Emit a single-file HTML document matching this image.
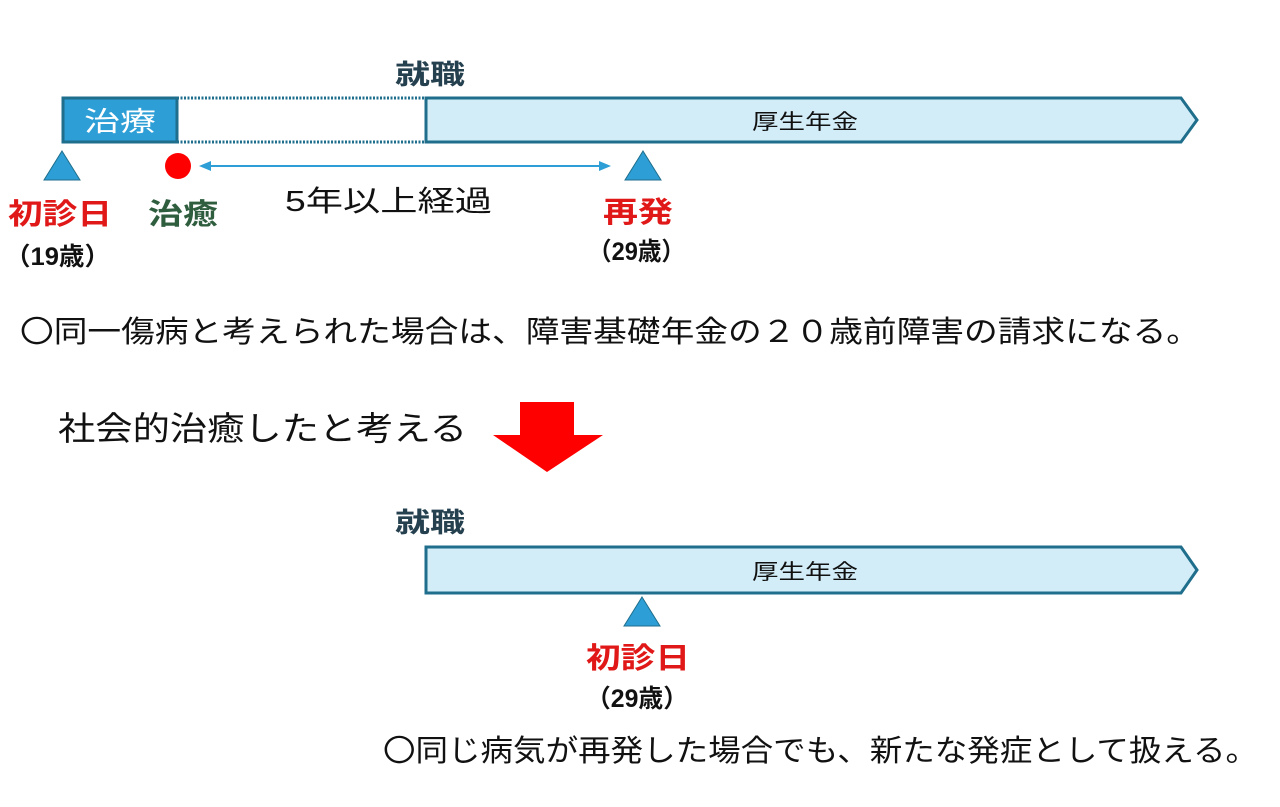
<!DOCTYPE html>
<html><head><meta charset="utf-8"><style>
html,body{margin:0;padding:0;background:#fff;width:1280px;height:807px;overflow:hidden}
text{font-family:"Liberation Sans","Noto Sans CJK JP",sans-serif}
</style></head><body>
<svg width="1280" height="807" viewBox="0 0 1280 807" xmlns="http://www.w3.org/2000/svg">
<text x="395" y="84" font-size="27" font-weight="bold" fill="#25404f" textLength="70" lengthAdjust="spacingAndGlyphs">就職</text>
<rect x="63" y="98" width="114" height="44" fill="#2d9fd6" stroke="#1f6e8c" stroke-width="3"/>
<text x="84" y="131" font-size="27" fill="#fff" textLength="72" lengthAdjust="spacingAndGlyphs">治療</text>
<line x1="177" y1="98" x2="426" y2="98" stroke="#1f6e8c" stroke-width="3" stroke-dasharray="2,1.5"/>
<line x1="177" y1="142" x2="426" y2="142" stroke="#1f6e8c" stroke-width="3" stroke-dasharray="2,1.5"/>
<polygon points="426,98 1181,98 1197,120 1181,142 426,142" fill="#d3edf8" stroke="#1f6e8c" stroke-width="3"/>
<text x="752" y="129" font-size="21" fill="#111" textLength="106" lengthAdjust="spacingAndGlyphs">厚生年金</text>
<polygon points="62,151 80,180 44,180" fill="#2d9fd6" stroke="#1f6e8c" stroke-width="1"/>
<polygon points="643,151 661,180 625,180" fill="#2d9fd6" stroke="#1f6e8c" stroke-width="1"/>
<circle cx="178" cy="166" r="13" fill="#f00"/>
<line x1="208" y1="166" x2="602" y2="166" stroke="#2d9fd6" stroke-width="2"/>
<polygon points="199,166 211,161 211,171" fill="#2d9fd6"/>
<polygon points="611,166 599,161 599,171" fill="#2d9fd6"/>
<text x="285" y="211" font-size="29" fill="#111" textLength="207" lengthAdjust="spacingAndGlyphs">5年以上経過</text>
<text x="8" y="224" font-size="29" font-weight="bold" fill="#e01818" textLength="104" lengthAdjust="spacingAndGlyphs">初診日</text>
<text x="148" y="224" font-size="29" font-weight="bold" fill="#2f5e3f" textLength="70" lengthAdjust="spacingAndGlyphs">治癒</text>
<text x="603" y="222" font-size="29" font-weight="bold" fill="#e01818" textLength="70" lengthAdjust="spacingAndGlyphs">再発</text>
<text x="5" y="265" font-size="25" font-weight="bold" fill="#111" textLength="105" lengthAdjust="spacingAndGlyphs">（19歳）</text>
<text x="588" y="260" font-size="25" font-weight="bold" fill="#111" textLength="97" lengthAdjust="spacingAndGlyphs">（29歳）</text>
<text x="20" y="342" font-size="30" fill="#111" textLength="1180" lengthAdjust="spacingAndGlyphs">〇同一傷病と考えられた場合は、障害基礎年金の２０歳前障害の請求になる。</text>
<text x="58" y="440" font-size="33" fill="#111" textLength="409" lengthAdjust="spacingAndGlyphs">社会的治癒したと考える</text>
<polygon points="520,402 574,402 574,435 603,435 547,472 493,435 520,435" fill="#f00"/>
<text x="395" y="532" font-size="27" font-weight="bold" fill="#25404f" textLength="70" lengthAdjust="spacingAndGlyphs">就職</text>
<polygon points="426,547 1181,547 1197,570 1181,593 426,593" fill="#d3edf8" stroke="#1f6e8c" stroke-width="3"/>
<text x="752" y="579" font-size="21" fill="#111" textLength="106" lengthAdjust="spacingAndGlyphs">厚生年金</text>
<polygon points="642,597 660,626 624,626" fill="#2d9fd6" stroke="#1f6e8c" stroke-width="1"/>
<text x="586" y="668" font-size="29" font-weight="bold" fill="#e01818" textLength="104" lengthAdjust="spacingAndGlyphs">初診日</text>
<text x="586" y="707" font-size="25" font-weight="bold" fill="#111" textLength="102" lengthAdjust="spacingAndGlyphs">（29歳）</text>
<text x="383" y="761" font-size="30" fill="#111" textLength="875" lengthAdjust="spacingAndGlyphs">〇同じ病気が再発した場合でも、新たな発症として扱える。</text>
</svg>
</body></html>
